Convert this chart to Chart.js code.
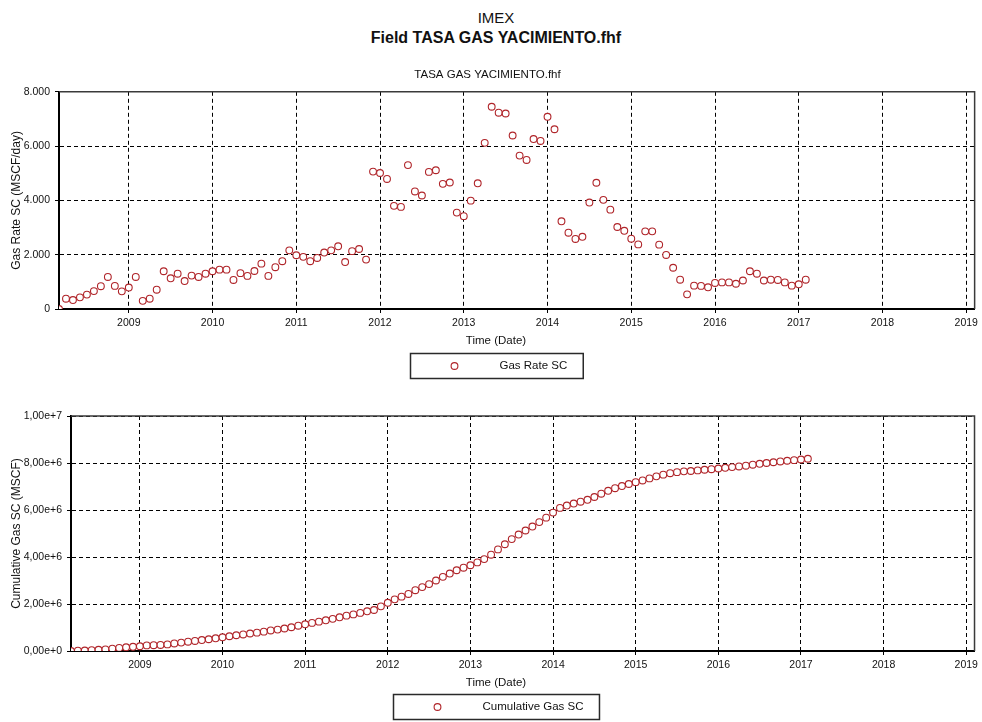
<!DOCTYPE html>
<html>
<head>
<meta charset="utf-8">
<script src="https://cdn.jsdelivr.net/npm/chart.js@4/dist/chart.umd.min.js"></script>
<style>
  html, body { margin: 0; padding: 0; background: #fff; overflow: hidden; width: 982px; height: 722px; }
  .hdr { position: absolute; left: 10px; width: 972px; text-align: center; color: #111;
         font-family: "Liberation Sans", Arial, sans-serif; }
  #mainTitle { top: 8px; font-size: 15px; line-height: 20px; }
  #fieldTitle { top: 28px; font-size: 16px; font-weight: bold; line-height: 20px; }
  canvas { position: absolute; left: 0; }
</style>
</head>
<body>
<div class="hdr" id="mainTitle">IMEX</div>
<div class="hdr" id="fieldTitle">Field TASA GAS YACIMIENTO.fhf</div>
<canvas id="rateChart" width="982" height="336" style="top:56px"></canvas>
<canvas id="cumChart" width="982" height="330" style="top:392px"></canvas>
<script>
// Monthly field gas data, first record March 2008
const startYear = 2008;
const startMonth = 3;

// Gas Rate SC (MSCF/day)
const gasRate = [
  0, 380, 330, 430, 530, 660, 840, 1180, 850, 650,
  790, 1180, 300, 380, 710, 1390, 1130, 1300, 1030, 1230,
  1180, 1300, 1390, 1450, 1450, 1070, 1320, 1220, 1400, 1670,
  1220, 1540, 1760, 2160, 1980, 1920, 1760, 1880, 2080, 2160,
  2310, 1730, 2130, 2210, 1820, 5060, 5010, 4790, 3800, 3760,
  5300, 4330, 4180, 5050, 5110, 4610, 4660, 3550, 3420, 3990,
  4630, 6120, 7450, 7230, 7200, 6390, 5650, 5490, 6260, 6190,
  7080, 6620, 3230, 2810, 2580, 2660, 3920, 4650, 4020, 3660,
  3020, 2880, 2590, 2380, 2860, 2860, 2370, 1990, 1520, 1080,
  540, 860, 850, 800, 960, 980, 980, 930, 1050, 1390,
  1300, 1050, 1080, 1070, 980, 860, 910, 1080
];

// Cumulative Gas SC (MSCF)
const cumGas = [
  0, 12e3, 22e3, 35e3, 51e3, 71e3, 97e3, 132e3, 158e3, 178e3,
  202e3, 238e3, 247e3, 258e3, 280e3, 322e3, 357e3, 396e3, 428e3, 465e3,
  501e3, 541e3, 583e3, 627e3, 671e3, 704e3, 744e3, 781e3, 823e3, 874e3,
  911e3, 958e3, 1011e3, 1077e3, 1137e3, 1195e3, 1249e3, 1306e3, 1369e3, 1435e3,
  1505e3, 1558e3, 1622e3, 1690e3, 1745e3, 1899e3, 2051e3, 2197e3, 2312e3, 2427e3,
  2588e3, 2719e3, 2846e3, 3000e3, 3155e3, 3295e3, 3437e3, 3545e3, 3649e3, 3770e3,
  3911e3, 4097e3, 4323e3, 4543e3, 4762e3, 4956e3, 5128e3, 5295e3, 5485e3, 5674e3,
  5889e3, 6090e3, 6189e3, 6274e3, 6353e3, 6433e3, 6553e3, 6694e3, 6816e3, 6927e3,
  7019e3, 7107e3, 7185e3, 7258e3, 7345e3, 7432e3, 7504e3, 7565e3, 7611e3, 7644e3,
  7660e3, 7686e3, 7712e3, 7736e3, 7766e3, 7796e3, 7825e3, 7854e3, 7886e3, 7928e3,
  7967e3, 7999e3, 8032e3, 8065e3, 8095e3, 8121e3, 8148e3, 8181e3
];

// Axis ranges and ticks
const timeMin = 2008 + 2 / 12;
const timeMax = 2019.1;
const yearTicks = [2009, 2010, 2011, 2012, 2013, 2014, 2015, 2016, 2017, 2018, 2019];
const rateTicks = [0, 2000, 4000, 6000, 8000];
const cumTicks = [0, 2e6, 4e6, 6e6, 8e6, 1e7];

const subtitle = 'TASA GAS YACIMIENTO.fhf';
const timeTitle = 'Time (Date)';

// Decimal-year time stamp of every monthly record
const times = gasRate.map((_, i) => startYear + (startMonth - 1 + i) / 12);

const FONT = '"Liberation Sans", Arial, sans-serif';
const INK = '#111';
const MARK = '#b0252a';
Chart.defaults.font.family = FONT;
Chart.defaults.color = INK;

const pointLook = {
  showLine: false,
  pointStyle: 'circle',
  pointRadius: 3.4,
  pointBorderWidth: 1.1,
  pointBorderColor: MARK,
  pointBackgroundColor: '#fff',
  borderColor: MARK,
  backgroundColor: '#fff'
};

// Frame on top/right, x-axis title and boxed legend under the plot
const framePlugin = {
  id: 'frame',
  afterDraw(chart, args, opts) {
    const { ctx, chartArea: a } = chart;
    ctx.save();
    ctx.strokeStyle = '#3a3a3a';
    ctx.lineWidth = 1.5;
    ctx.beginPath();
    ctx.moveTo(a.left, a.top);
    ctx.lineTo(a.right, a.top);
    ctx.lineTo(a.right, a.bottom);
    ctx.stroke();

    ctx.font = '11.5px ' + FONT;
    ctx.fillStyle = INK;
    ctx.textAlign = 'center';
    ctx.textBaseline = 'middle';
    ctx.fillText(opts.xTitle, opts.centerX, a.bottom + opts.titleGap);

    const ds = chart.data.datasets[0];
    const tw = ctx.measureText(ds.label).width;
    const w = 89 + tw + 16, h = 25;
    const left = Math.round(opts.centerX - w / 2) + 0.5;
    const top = Math.round(a.bottom + opts.legendGap) + 0.5;
    ctx.strokeStyle = '#2a2a2a';
    ctx.lineWidth = 1.5;
    ctx.strokeRect(left, top, w, h);

    ctx.beginPath();
    ctx.arc(left + 44, top + h / 2, ds.pointRadius, 0, Math.PI * 2);
    ctx.lineWidth = ds.pointBorderWidth;
    ctx.strokeStyle = ds.pointBorderColor;
    ctx.stroke();

    ctx.textAlign = 'left';
    ctx.fillText(ds.label, left + 89, top + h / 2);
    ctx.restore();
  }
};

function timeAxis() {
  return {
    type: 'linear',
    position: 'bottom',
    min: timeMin,
    max: timeMax,
    afterFit(s) { s.height = 20; },
    afterBuildTicks(s) { s.ticks = yearTicks.map(v => ({ value: v })); },
    ticks: {
      autoSkip: false, maxRotation: 0, padding: 4,
      font: { size: 10.5 }, color: INK,
      callback: v => String(v)
    },
    grid: { color: '#000', lineWidth: 1, tickLength: 4, tickColor: '#000', tickWidth: 1, tickBorderDash: [] },
    border: { display: true, color: '#000', width: 2, dash: [4, 3] }
  };
}

function valueAxis(ticks, width, title, fmt) {
  return {
    type: 'linear',
    position: 'left',
    min: ticks[0],
    max: ticks[ticks.length - 1],
    afterFit(s) { s.width = width; },
    afterBuildTicks(s) { s.ticks = ticks.map(v => ({ value: v })); },
    ticks: { padding: 5, font: { size: 10.5 }, color: INK, callback: fmt },
    title: { display: true, text: title, font: { size: 12 }, color: INK, padding: { top: 9, bottom: 0 } },
    grid: { color: '#000', lineWidth: 1, tickLength: 4, tickColor: '#000', tickWidth: 1, tickBorderDash: [] },
    border: { display: true, color: '#000', width: 2, dash: [4, 3] }
  };
}

const dotThousands = v => v === 0 ? '0' : String(v).replace(/\B(?=(\d{3})+(?!\d))/g, '.');
const commaExp = v => v.toExponential(2).replace('.', ',');

new Chart(document.getElementById('rateChart'), {
  type: 'scatter',
  data: {
    datasets: [Object.assign({
      label: 'Gas Rate SC',
      data: times.map((t, i) => ({ x: t, y: gasRate[i] }))
    }, pointLook)]
  },
  options: {
    responsive: false, animation: false, devicePixelRatio: 1,
    layout: { padding: { left: 0, right: 7, top: 0, bottom: 63 } },
    plugins: {
      legend: { display: false },
      tooltip: { enabled: false },
      title: { display: true, text: subtitle, color: INK, font: { size: 11.5, weight: 'normal' }, padding: { top: 12, bottom: 10 } },
      frame: { centerX: 496, titleGap: 32, legendGap: 44, xTitle: timeTitle }
    },
    scales: {
      x: timeAxis(),
      y: valueAxis(rateTicks, 59, 'Gas Rate SC (MSCF/day)', dotThousands)
    }
  },
  plugins: [framePlugin]
});

new Chart(document.getElementById('cumChart'), {
  type: 'scatter',
  data: {
    datasets: [Object.assign({
      label: 'Cumulative Gas SC',
      data: times.map((t, i) => ({ x: t, y: cumGas[i] }))
    }, pointLook)]
  },
  options: {
    responsive: false, animation: false, devicePixelRatio: 1,
    layout: { padding: { left: 0, right: 7, top: 24, bottom: 51 } },
    plugins: {
      legend: { display: false },
      tooltip: { enabled: false },
      title: { display: false },
      frame: { centerX: 496, titleGap: 32, legendGap: 43, xTitle: timeTitle }
    },
    scales: {
      x: timeAxis(),
      y: valueAxis(cumTicks, 71, 'Cumulative Gas SC (MSCF)', commaExp)
    }
  },
  plugins: [framePlugin]
});
</script>
</body>
</html>
